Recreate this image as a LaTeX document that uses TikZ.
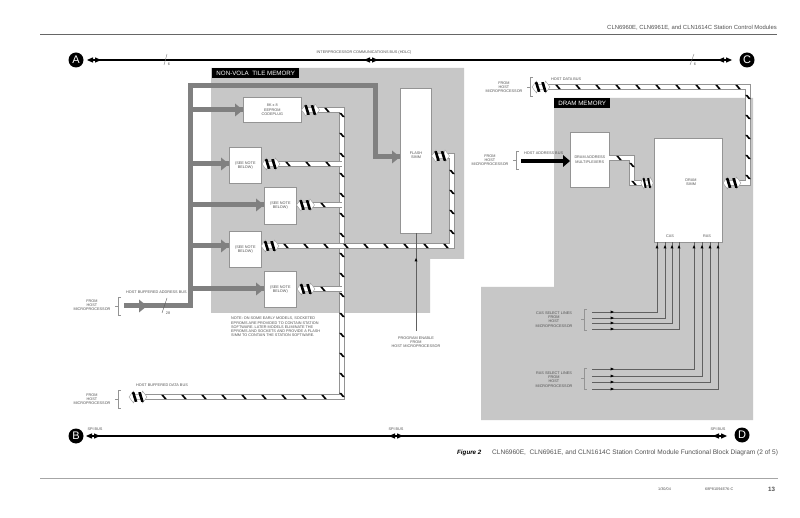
\documentclass[tikz,border=0pt]{standalone}
\usepackage{fontspec}
\setmainfont{Liberation Sans}
\usetikzlibrary{decorations.markings,arrows.meta,calc}
\definecolor{zone}{gray}{0.78}
\definecolor{pipe}{gray}{0.50}
\definecolor{edgeg}{gray}{0.58}
\definecolor{txt}{gray}{0.32}
\newcommand{\stripepath}[1]{%
  \draw[edgeg,line width=5.2pt,line join=miter] #1;
  \draw[white,line width=3.9pt,line join=miter] #1;
  \path[decorate,decoration={markings,mark=between positions 10pt and -4pt step 20pt with {%
    \pgftransformresetnontranslations
    \fill[black] (-2.9pt,2.2pt)--(-0.7pt,2.2pt)--(2.9pt,-2.2pt)--(0.7pt,-2.2pt)--cycle;}}] #1;
}
\newcommand{\chev}[3]{% centre x, y, xscale
  \begin{scope}[shift={(#1,#2)},xscale=#3]
    \fill[white,draw=edgeg,line width=.35pt] (-9,0)--(-4.5,-6)--(-3.5,-2.4)--(3.5,-2.4)--(4.5,-6)--(9,0)--(4.5,6)--(3.5,2.4)--(-3.5,2.4)--(-4.5,6)--cycle;
    \fill[black] (-6.2,-4.6)--(-3.6,-5)--(-.6,4.6)--(-3.2,5)--cycle;
    \fill[black] (.2,-4.6)--(2.8,-5)--(5.8,4.6)--(3.2,5)--cycle;
  \end{scope}}
\tikzset{
  x=1pt,y=-1pt,
  tiny/.style={font=\fontsize{3.8}{4.25}\selectfont,text=txt,align=center,inner sep=0pt},
  box/.style={draw=edgeg,fill=white,line width=.6pt,inner sep=0pt,anchor=north west,tiny},
  letter/.style={circle,fill=black,text=white,minimum size=15pt,inner sep=0pt,font=\fontsize{11}{11}\selectfont},
  hdr/.style={fill=black,text=white,anchor=north west,inner sep=0pt,font=\fontsize{6.2}{7}\selectfont},
  mainbus/.style={line width=1.5pt,black},
  fat/.style={pipe,line width=5pt,line join=miter},
  thin/.style={gray!75!black,line width=.55pt},
  brk/.style={edgeg,line width=.4pt},
}
\newcommand{\fathd}[2]{\fill[pipe] (#1,#2)--(#1-8,#2-6.5)--(#1-8,#2+6.5)--cycle;}
\newcommand{\dbl}[2]{\fill[black] (#1,#2)--(#1+6,#2-2.7)--(#1+6,#2+2.7)--cycle;
  \fill[black] (#1+14,#2)--(#1+8,#2-2.7)--(#1+8,#2+2.7)--cycle;}
\newcommand{\smhd}[3]{\fill[black,shift={(#1,#2)},rotate=#3] (2,0)--(-1.5,-1.5)--(-1.5,1.5)--cycle;}
\begin{document}
\begin{tikzpicture}
\useasboundingbox (0,0) rectangle (800,518);
\fill[white] (0,0) rectangle (800,518);
% zones
\fill[zone] (211,68)--(464,68)--(464,259)--(430,259)--(430,313)--(211,313)--cycle;
\fill[zone] (554,98)--(753,98)--(753,420)--(481,420)--(481,287)--(554,287)--cycle;
\node[hdr,minimum width=87pt,minimum height=10pt] (nv) at (212,68) {NON-VOLA\ \ TILE MEMORY};
\node[hdr,minimum width=56pt,minimum height=10pt] (dm) at (554,98) {DRAM MEMORY};
% boxes
\node[box,minimum width=58pt,minimum height=25pt] (ee) at (243,97) {8K x 8\\EEPROM\\CODEPLUG};
\node[box,minimum width=32pt,minimum height=36pt] (b2) at (229,147) {(SEE NOTE\\BELOW)};
\node[box,minimum width=32pt,minimum height=37pt] (b3) at (264,187) {(SEE NOTE\\BELOW)};
\node[box,minimum width=32pt,minimum height=36pt] (b4) at (229,231) {(SEE NOTE\\BELOW)};
\node[box,minimum width=32pt,minimum height=36pt] (b5) at (264,271) {(SEE NOTE\\BELOW)};
\node[box,minimum width=31pt,minimum height=145pt] (fl) at (400,88) {};
\node[tiny] (flt) at (416,155) {FLASH\\SIMM};
\node[box,minimum width=39pt,minimum height=55pt] (mx) at (570,132) {DRAM ADDRESS\\MULTIPLEXERS};
\node[box,minimum width=68pt,minimum height=104pt] (dr) at (654,138) {};
\node[tiny] (drt) at (691,182) {DRAM\\SIMM};
\node[tiny] (cas) at (670,236) {CAS};
\node[tiny] (ras) at (707,236) {RAS};
% main buses
\node[letter] (A) at (76,60) {A};
\node[letter] (C) at (747,60) {C};
\node[letter] (B) at (76,436) {B};
\node[letter] (D) at (742,435) {D};
\coordinate (al) at (90,60); \coordinate (cl) at (730,60);
\coordinate (bl) at (90,436); \coordinate (dl) at (725,436);
\draw[mainbus] (al)--(cl);
\draw[mainbus] (bl)--(dl);
\dbl{87}{60}\dbl{364}{60}\dbl{718}{60}
\dbl{86}{436}\dbl{389}{436}\dbl{713}{436}
\draw[pipe,line width=.4pt] (164,65)--(167,54);
\draw[pipe,line width=.4pt] (690,65)--(694,54);
\node[tiny] (s1) at (169,64) {6};
\node[tiny] (s2) at (695,64) {6};
\node[tiny] (ipc) at (364,53) {INTERPROCESSOR COMMUNICATIONS BUS (HDLC)};
\node[tiny] (sp1) at (95,429.5) {SPI BUS};
\node[tiny] (sp2) at (396,429.5) {SPI BUS};
\node[tiny] (sp3) at (718,429.5) {SPI BUS};
% fat address bus
\coordinate (fs) at (124,306); \coordinate (fc) at (190,306); \coordinate (ft) at (190,86);
\coordinate (fr) at (375,86); \coordinate (fd) at (375,157);
\draw[fat] (fs)--(fc)--(ft)--(fr)--(fd)--(fl.west|-fd);
\fathd{400}{157}
\fill[pipe] (147,306)--(139,299.5)--(139,312.5)--cycle;
\foreach \n/\yy in {ee/110,b2/164,b3/205,b4/246,b5/289}{
  \draw[fat] (190,\yy)--(\n.west|-0,\yy);
}
\fathd{243}{110}\fathd{229}{164}\fathd{264}{205}\fathd{229}{246}\fathd{264}{289}
\draw[gray!70!black,line width=.4pt] (162,313)--(167,298);
\node[tiny] (n28) at (168,313) {28};
\node[tiny,anchor=west] (hba) at (126,292) {HOST BUFFERED ADDRESS BUS};
% brackets and sources
\node[tiny] (f1) at (92,305) {FROM\\HOST\\MICROPROCESSOR};
\draw[brk] (121,297)--(118,297)--(118,315)--(121,315) (118,306)--(115,306);
\node[tiny] (f2) at (92,399) {FROM\\HOST\\MICROPROCESSOR};
\draw[brk] (121,390)--(118,390)--(118,408)--(121,408) (118,399)--(115,399);
\node[tiny,anchor=west] (hbd) at (136,385) {HOST BUFFERED DATA BUS};
\node[tiny] (f3) at (504,87) {FROM\\HOST\\MICROPROCESSOR};
\draw[brk] (533,77)--(530,77)--(530,96)--(533,96) (530,87)--(527,87);
\node[tiny,anchor=west] (hdb) at (551,79) {HOST DATA BUS};
\node[tiny] (f4) at (490,160) {FROM\\HOST\\MICROPROCESSOR};
\draw[brk] (519,151)--(516,151)--(516,169)--(519,169) (516,160)--(513,160);
\node[tiny,anchor=west] (hab) at (524,153) {HOST ADDRESS BUS};
\coordinate (hs) at (521,161);
\draw[black,line width=4pt] (hs)--(565,161);
\fill[black] (570,161)--(563,155)--(563,167)--cycle;
% striped buses
\stripepath{(317,110)--(342,110)--(342,397)--(145,397)}
\stripepath{(278,164)--(342,164)}
\stripepath{(313,205)--(342,205)}
\stripepath{(313,289)--(342,289)}
\stripepath{(276,246)--(452,246)--(452,156)--(446,156)}
\stripepath{(548,87)--(748,87)--(748,183)--(739,183)}
\stripepath{(609,158)--(632,158)--(632,183)--(642,183)}
\chev{310.5}{110}{1}
\chev{271}{164}{1}
\chev{305.5}{205}{1}
\chev{270}{246}{1}
\chev{306}{289}{1}
\chev{440.5}{156}{1}
\chev{138}{397}{1}
\chev{541}{87}{1}
\chev{732}{183}{1}
\chev{647}{183}{.7}
% program enable
\coordinate (pe) at (416,331);
\draw[thin] (pe)--(416,233);
\smhd{416}{260}{90}
\node[tiny] (pet) at (416,342) {PROGRAM ENABLE\\FROM\\HOST MICROPROCESSOR};
% note
\node[tiny,anchor=north west,align=left] (note) at (231,317) {NOTE: ON SOME EARLY MODELS, SOCKETED\\EPROMS ARE PROVIDED TO CONTAIN STATION\\SOFTWARE. LATER MODELS ELIMINATE THE\\EPROMS AND SOCKETS AND PROVIDE A FLASH\\SIMM TO CONTAIN THE STATION SOFTWARE.};
% select lines
\foreach \yy/\xx in {312/657,318/665,323/672,329/679,369/694,376/702,382/710,389/718}{
  \draw[thin] (592,\yy)--(\xx,\yy)--(\xx,242);
  \smhd{612}{\yy}{0}
  \smhd{\xx}{247}{90}
}
\node[tiny] (cl1) at (554,319.5) {CAS SELECT LINES\\FROM\\HOST\\MICROPROCESSOR};
\node[tiny] (rl1) at (554,379.5) {RAS SELECT LINES\\FROM\\HOST\\MICROPROCESSOR};
\draw[brk] (587,309)--(584,309)--(584,330)--(587,330) (584,319.5)--(581,319.5);
\draw[brk] (587,368)--(584,368)--(584,389)--(587,389) (584,378.5)--(581,378.5);
% page furniture
\node[anchor=east,inner sep=0pt,text=txt,font=\fontsize{5.9}{6}\selectfont] (hd) at (777,28) {CLN6960E, CLN6961E, and CLN1614C Station Control Modules};
\draw[gray!80!black,line width=.6pt] (40,34)--(777,34);
\node[anchor=west,inner sep=0pt,text=black,font=\fontsize{6.2}{7}\selectfont\bfseries\itshape] (cap1) at (457,453) {Figure 2};
\node[anchor=west,inner sep=0pt,text=txt,font=\fontsize{6.55}{7}\selectfont] (cap2) at (492,453) {CLN6960E,\ \ CLN6961E, and CLN1614C Station Control Module Functional Block Diagram (2 of 5)};
\draw[gray!70,line width=.6pt] (40,478)--(778,478);
\node[tiny,anchor=west] (d1) at (658,489) {1/30/04};
\node[tiny,anchor=west] (d2) at (705,489) {68P81094E76-C};
\node[anchor=west,inner sep=0pt,text=txt,font=\fontsize{6.2}{7}\selectfont\bfseries] (d3) at (768,489) {13};
\end{tikzpicture}
\end{document}
